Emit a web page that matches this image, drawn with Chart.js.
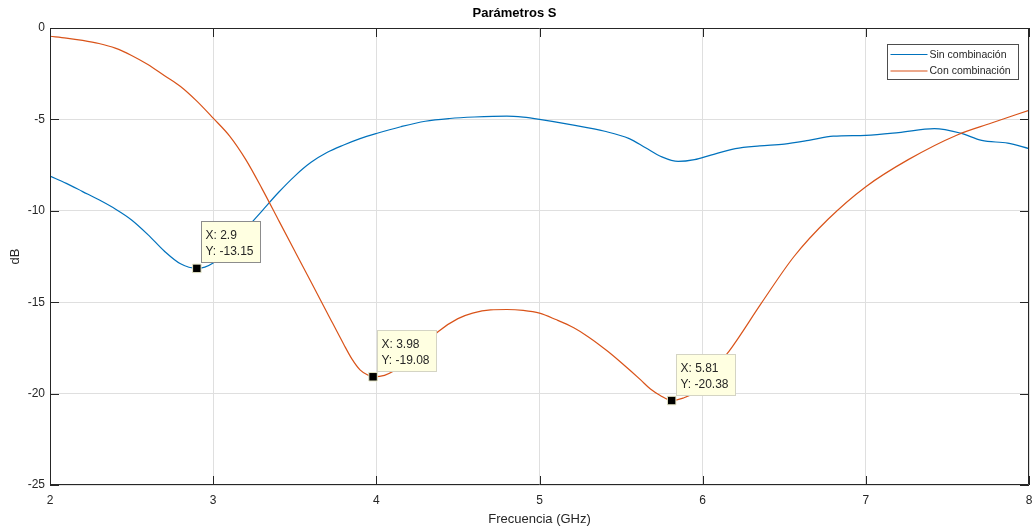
<!DOCTYPE html>
<html lang="es">
<head>
<meta charset="utf-8">
<title>Parámetros S</title>
<script src="https://cdn.jsdelivr.net/npm/chart.js@4/dist/chart.umd.min.js"></script>
<style>
    html, body { margin: 0; padding: 0; background: #fff; }
    #wrap { width: 1033px; height: 529px; position: relative; }
</style>
</head>
<body>
<div id="wrap"><canvas id="sparams"></canvas></div>
<script>
// Curva sin red de adaptación (frecuencia en GHz, nivel en dB)
const freqSin = [2.00, 2.10, 2.20, 2.30, 2.40, 2.50, 2.60, 2.70, 2.80, 2.90, 3.00, 3.10, 3.20, 3.30,
    3.40, 3.50, 3.60, 3.70, 3.80, 3.90, 4.00, 4.15, 4.30, 4.45, 4.60, 4.80, 4.90, 5.00, 5.20,
    5.40, 5.55, 5.65, 5.75, 5.85, 5.95, 6.05, 6.20, 6.35, 6.50, 6.65, 6.80, 7.00, 7.20, 7.42,
    7.58, 7.71, 7.87, 8.00];
const dbSin = [-8.10, -8.50, -8.95, -9.40, -9.90, -10.50, -11.30, -12.20, -12.90, -13.15, -12.85, -12.00, -11.00, -10.00,
    -9.00, -8.10, -7.35, -6.80, -6.40, -6.05, -5.77, -5.40, -5.10, -4.95, -4.87, -4.82, -4.88, -5.00, -5.30,
    -5.65, -6.05, -6.55, -7.05, -7.30, -7.20, -6.95, -6.60, -6.45, -6.35, -6.15, -5.92, -5.87, -5.72, -5.50,
    -5.75, -6.15, -6.30, -6.60];

// Curva con red de adaptación
const freqCon = [2.00, 2.10, 2.20, 2.30, 2.40, 2.50, 2.60, 2.70, 2.80, 2.90, 3.00, 3.10, 3.20, 3.30,
    3.40, 3.50, 3.60, 3.70, 3.80, 3.85, 3.90, 3.95, 3.98, 4.05, 4.15, 4.25, 4.38, 4.50, 4.59,
    4.70, 4.80, 4.90, 5.00, 5.10, 5.21, 5.30, 5.42, 5.50, 5.62, 5.68, 5.74, 5.81, 5.88, 5.945,
    6.16, 6.36, 6.56, 6.77, 7.00, 7.26, 7.56, 7.77, 8.00];
const dbCon = [-0.45, -0.55, -0.68, -0.85, -1.10, -1.50, -2.00, -2.60, -3.20, -4.00, -4.93, -5.90, -7.20, -8.80,
    -10.50, -12.20, -13.90, -15.60, -17.30, -18.10, -18.70, -19.00, -19.08, -19.00, -18.50, -17.70, -16.60, -15.90, -15.60,
    -15.42, -15.40, -15.45, -15.60, -15.95, -16.40, -16.90, -17.70, -18.30, -19.25, -19.75, -20.10, -20.38, -20.25, -19.95,
    -17.70, -15.05, -12.50, -10.45, -8.68, -7.20, -5.85, -5.20, -4.50];

// Marcadores con su etiqueta X/Y
const markFreq = [2.9, 3.98, 5.81];
const markDb = [-13.15, -19.08, -20.38];
const markEdge = ['#8c8c8c', '#d4d4c4', '#d4d4c4'];

const xTicks = [2, 3, 4, 5, 6, 7, 8];
const yTicks = [-25, -20, -15, -10, -5, 0];

const seriesNames = ['Sin combinación', 'Con combinación'];
const seriesColors = ['#0072BD', '#D95319'];

const INK = '#262626';
const FONT = '"Liberation Sans", Arial, Helvetica, sans-serif';

function toPoints(xs, ys) {
    return xs.map((x, i) => ({ x: x, y: ys[i] }));
}

// Caja de ejes cerrada con marcas hacia dentro, leyenda y etiquetas de datos
const matlabAxes = {
    id: 'matlabAxes',
    afterDatasetsDraw(chart) {
        const ctx = chart.ctx;
        const area = chart.chartArea;
        const sx = chart.scales.x;
        const sy = chart.scales.y;
        const tick = 9;

        ctx.save();
        ctx.strokeStyle = INK;
        ctx.lineWidth = 1;
        ctx.beginPath();
        ctx.rect(Math.round(area.left) + 0.5, Math.round(area.top) + 0.5,
            Math.round(area.right - area.left) - 1, Math.round(area.bottom - area.top) - 1);
        xTicks.forEach(v => {
            const px = Math.round(sx.getPixelForValue(v)) + 0.5;
            ctx.moveTo(px, area.bottom); ctx.lineTo(px, area.bottom - tick);
            ctx.moveTo(px, area.top); ctx.lineTo(px, area.top + tick);
        });
        yTicks.forEach(v => {
            const py = Math.round(sy.getPixelForValue(v)) + 0.5;
            ctx.moveTo(area.left, py); ctx.lineTo(area.left + tick, py);
            ctx.moveTo(area.right, py); ctx.lineTo(area.right - tick, py);
        });
        ctx.stroke();

        // Leyenda
        const lw = 131, lh = 35;
        const lx = Math.round(area.right - 11 - lw) + 0.5;
        const ly = Math.round(area.top + 16) + 0.5;
        ctx.fillStyle = '#fff';
        ctx.fillRect(lx, ly, lw, lh);
        ctx.strokeStyle = '#4d4d4d';
        ctx.strokeRect(lx, ly, lw, lh);
        ctx.font = '10.5px ' + FONT;
        ctx.textBaseline = 'middle';
        seriesNames.forEach((name, i) => {
            const rowY = ly + 10 + i * 16.5;
            ctx.strokeStyle = seriesColors[i];
            ctx.lineWidth = 1.2;
            ctx.beginPath();
            ctx.moveTo(lx + 3, rowY);
            ctx.lineTo(lx + 40, rowY);
            ctx.stroke();
            ctx.fillStyle = INK;
            ctx.fillText(name, lx + 42, rowY + 0.5);
        });

        // Etiquetas de los marcadores
        ctx.font = '12px ' + FONT;
        ctx.lineWidth = 1;
        markFreq.forEach((f, i) => {
            const mx = sx.getPixelForValue(f);
            const my = sy.getPixelForValue(markDb[i]);
            const lines = ['X: ' + f, 'Y: ' + markDb[i].toFixed(2)];
            const w = Math.round(Math.max(...lines.map(t => ctx.measureText(t).width)) + 11);
            const bx = Math.round(mx + 4) + 0.5;
            const by = Math.round(my - 47) + 0.5;
            ctx.fillStyle = '#ffffe1';
            ctx.fillRect(bx, by, w, 41);
            ctx.strokeStyle = markEdge[i];
            ctx.strokeRect(bx, by, w, 41);
            ctx.fillStyle = INK;
            ctx.fillText(lines[0], bx + 4, by + 14);
            ctx.fillText(lines[1], bx + 4, by + 30);
        });
        ctx.restore();
    }
};

new Chart(document.getElementById('sparams'), {
    type: 'scatter',
    data: {
        datasets: [
            {
                label: 'Marcadores',
                data: toPoints(markFreq, markDb),
                pointStyle: 'rect',
                pointRadius: 6,
                backgroundColor: '#000',
                borderColor: '#e8e8c8',
                borderWidth: 1,
                order: 0
            },
            {
                label: seriesNames[1],
                data: toPoints(freqCon, dbCon),
                showLine: true,
                borderColor: seriesColors[1],
                borderWidth: 1.2,
                pointRadius: 0,
                cubicInterpolationMode: 'monotone',
                order: 1
            },
            {
                label: seriesNames[0],
                data: toPoints(freqSin, dbSin),
                showLine: true,
                borderColor: seriesColors[0],
                borderWidth: 1.2,
                pointRadius: 0,
                cubicInterpolationMode: 'monotone',
                order: 2
            }
        ]
    },
    options: {
        responsive: true,
        maintainAspectRatio: false,
        animation: false,
        layout: { autoPadding: false, padding: { left: 0, right: 4, top: 0, bottom: 0 } },
        plugins: {
            legend: { display: false },
            tooltip: { enabled: false },
            title: {
                display: true,
                text: 'Parámetros S',
                color: '#000',
                font: { family: FONT, size: 13, weight: 'bold', lineHeight: 1.2 },
                padding: { top: 6, bottom: 6.4 }
            }
        },
        scales: {
            x: {
                type: 'linear',
                min: 2,
                max: 8,
                afterFit: s => { s.height = 44; s.paddingLeft = 0; s.paddingRight = 0; },
                afterBuildTicks: s => { s.ticks = xTicks.map(v => ({ value: v })); },
                grid: { color: '#dfdfdf', drawTicks: false },
                border: { display: false },
                ticks: { color: INK, padding: 8, font: { family: FONT, size: 12 } },
                title: {
                    display: true,
                    text: 'Frecuencia (GHz)',
                    color: INK,
                    font: { family: FONT, size: 13 },
                    padding: { top: 0, bottom: 2 }
                }
            },
            y: {
                type: 'linear',
                min: -25,
                max: 0,
                afterFit: s => { s.width = 50; s.paddingTop = 0; s.paddingBottom = 0; },
                afterBuildTicks: s => { s.ticks = yTicks.map(v => ({ value: v })); },
                grid: { color: '#dfdfdf', drawTicks: false },
                border: { display: false },
                ticks: { color: INK, padding: 5, font: { family: FONT, size: 12 } },
                title: {
                    display: true,
                    text: 'dB',
                    color: INK,
                    font: { family: FONT, size: 13 },
                    padding: { top: 8, bottom: 0 }
                }
            }
        }
    },
    plugins: [matlabAxes]
});
</script>
</body>
</html>
